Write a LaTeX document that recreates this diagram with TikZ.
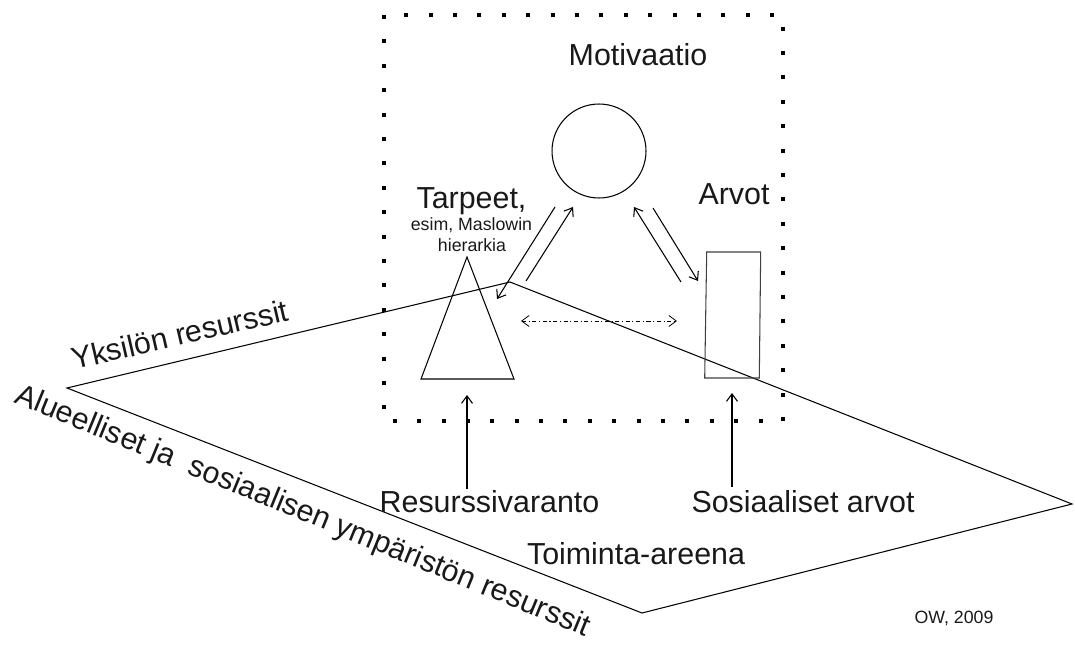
\documentclass[tikz,border=0pt]{standalone}
\usepackage{fontspec}
\setmainfont{Liberation Sans}
\usetikzlibrary{arrows.meta}
\begin{document}
\begin{tikzpicture}[x=0.02cm,y=-0.02cm,
  thinline/.style={line width=0.6pt},
  arr/.style={thinline,-{Straight Barb[length=1.5mm,width=2.2mm]}},
  txt/.style={inner sep=0pt,text=black!90},
  big/.style={txt,font=\fontsize{17.3}{20}\selectfont},
  small/.style={txt,font=\fontsize{10.1}{12}\selectfont},
  dotframe/.style={line width=0.08cm,dash pattern=on 0.08cm off 0.408cm},
]
\useasboundingbox (0,0) rectangle (1075,646);

% dotted frame of the motivation box
\draw[dotframe] (384,15) rectangle (783,421);

% action arena
\coordinate (pl) at (67,388);
\coordinate (pt) at (510,282);
\coordinate (pr) at (1072,504);
\coordinate (pb) at (642,613);
\draw[thinline] (pl) -- (pt) -- (pr) -- (pb) -- cycle;

% circle, triangle, rectangle
\node[draw,thinline,circle,minimum size=1.88cm,inner sep=0pt] (motiv) at (599,151) {};
\coordinate (t1) at (421,379);
\coordinate (t2) at (467,257);
\coordinate (t3) at (514,379);
\draw[thinline] (t1) -- (t2) -- (t3) -- cycle;
\coordinate (r1) at (706.7,252);
\coordinate (r2) at (760.7,252);
\coordinate (r3) at (759.3,378);
\coordinate (r4) at (704.7,378);
\draw[thinline,draw=black!75] (r1) -- (r2) -- (r3) -- (r4) -- cycle;

% labels
\node[big,anchor=base] (motlab) at (638,65) {Motivaatio};
\node[big,anchor=base] (tarp) at (471.5,208) {Tarpeet,};
\node[small,anchor=base] (esim) at (471.5,230) {esim, Maslowin};
\node[small,anchor=base] (hier) at (472,251) {hierarkia};
\node[big,anchor=base] (arvot) at (734,204) {Arvot};
\node[big,anchor=base] (resv) at (489.5,512) {Resurssivaranto};
\node[big,anchor=base] (sosa) at (803,512) {Sosiaaliset arvot};
\node[big,anchor=base] (toim) at (636,564) {Toiminta-areena};
\node[small,anchor=base] (ow) at (954,623) {OW, 2009};
\node[big,anchor=base west,rotate=13] (yks) at (74,370) {Yksilön resurssit};
\node[big,anchor=base west,rotate=-22.3] (alu) at (13,402) {Alueelliset ja\ \ sosiaalisen ympäristön resurssit};

% arrows between the circle and the shapes
\coordinate (a1s) at (555,207); \coordinate (a1e) at (497,299);
\coordinate (a2s) at (526,281); \coordinate (a2e) at (573,207);
\coordinate (a3s) at (681,282); \coordinate (a3e) at (634,207);
\coordinate (a4s) at (653,208); \coordinate (a4e) at (698,281);
\draw[arr] (a1s) -- (a1e);
\draw[arr] (a2s) -- (a2e);
\draw[arr] (a3s) -- (a3e);
\draw[arr] (a4s) -- (a4e);

% dash-dotted two-way arrow
\coordinate (d1) at (521,321);
\coordinate (d2) at (677,321);
\draw[line width=0.45pt,{Straight Barb[length=1.5mm,width=2.2mm]}-{Straight Barb[length=1.5mm,width=2.2mm]},
  dash pattern=on 2.3pt off 1.5pt on 0.6pt off 1.5pt] (d1) -- (d2);

% arrows from the resource labels up into the box
\coordinate (u1s) at (467,489); \coordinate (u1e) at (467,395);
\coordinate (u2s) at (732,487); \coordinate (u2e) at (732,393);
\draw[arr] (u1s) -- (u1e);
\draw[arr] (u2s) -- (u2e);
\end{tikzpicture}
\end{document}
